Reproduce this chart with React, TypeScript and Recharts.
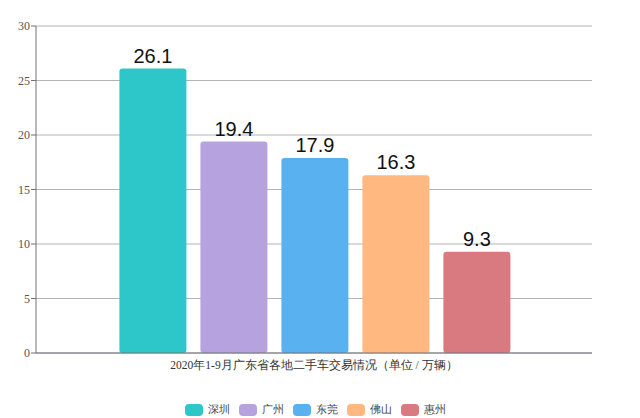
import { Bar, BarChart, CartesianGrid, LabelList, XAxis, YAxis } from "recharts";

const CATEGORY = "2020年1-9月广东省各地二手车交易情况（单位 / 万辆）";
const CITIES = ["深圳", "广州", "东莞", "佛山", "惠州"];
const VALUES = [26.1, 19.4, 17.9, 16.3, 9.3];
const Y_TICKS = [0, 5, 10, 15, 20, 25, 30];

const COLORS = ["#2EC7C9", "#B6A2DE", "#5AB1EF", "#FFB980", "#D87A80"];

const SERIF = "'Liberation Serif', 'DejaVu Serif', serif";

// one category, one series per city
const row: Record<string, string | number> = { name: CATEGORY };
CITIES.forEach((city, i) => {
  row[city] = VALUES[i];
});
const chartData = [row];

// legend drawn as plain html under the chart
const LegendRow = () => (
  <div
    style={{
      position: "absolute",
      left: 0,
      top: 402,
      width: 640,
      display: "flex",
      justifyContent: "center",
      alignItems: "center",
      fontFamily: SERIF,
      fontSize: 11,
      color: "#444",
    }}
  >
    {CITIES.map((city, i) => (
      <div key={city} style={{ display: "flex", alignItems: "center", marginRight: 9 }}>
        <span
          style={{
            display: "inline-block",
            width: 18,
            height: 12,
            borderRadius: 4,
            background: COLORS[i],
            marginRight: 5,
          }}
        />
        <span>{city}</span>
      </div>
    ))}
  </div>
);

export default function App() {
  return (
    <div style={{ position: "absolute", left: 0, top: 0, width: 640, height: 418, background: "#fff" }}>
      <BarChart
        width={640}
        height={418}
        data={chartData}
        margin={{ top: 26, right: 48, bottom: 47, left: 6 }}
        barCategoryGap="15%"
        barGap={14}
      >
        <CartesianGrid vertical={false} stroke="#b4b4b4" />
        <XAxis
          dataKey="name"
          height={18}
          axisLine={{ stroke: "#6E7079" }}
          tickLine={false}
          tick={{ fontSize: 11.5, fill: "#333", fontFamily: SERIF }}
          tickMargin={2}
        />
        <YAxis
          width={30}
          domain={[0, 30]}
          ticks={Y_TICKS}
          axisLine={{ stroke: "#6E7079" }}
          tickLine={{ stroke: "#6E7079" }}
          tickSize={5}
          tickMargin={1}
          tick={{ fontSize: 12, fill: "#555", fontFamily: SERIF }}
        />
        {CITIES.map((city, i) => (
          <Bar key={city} dataKey={city} fill={COLORS[i]} radius={3} isAnimationActive={false}>
            <LabelList
              dataKey={city}
              position="top"
              offset={6}
              fill="#111"
              fontSize={20}
              fontFamily="'Liberation Sans', Arial, sans-serif"
            />
          </Bar>
        ))}
      </BarChart>
      <LegendRow />
    </div>
  );
}
